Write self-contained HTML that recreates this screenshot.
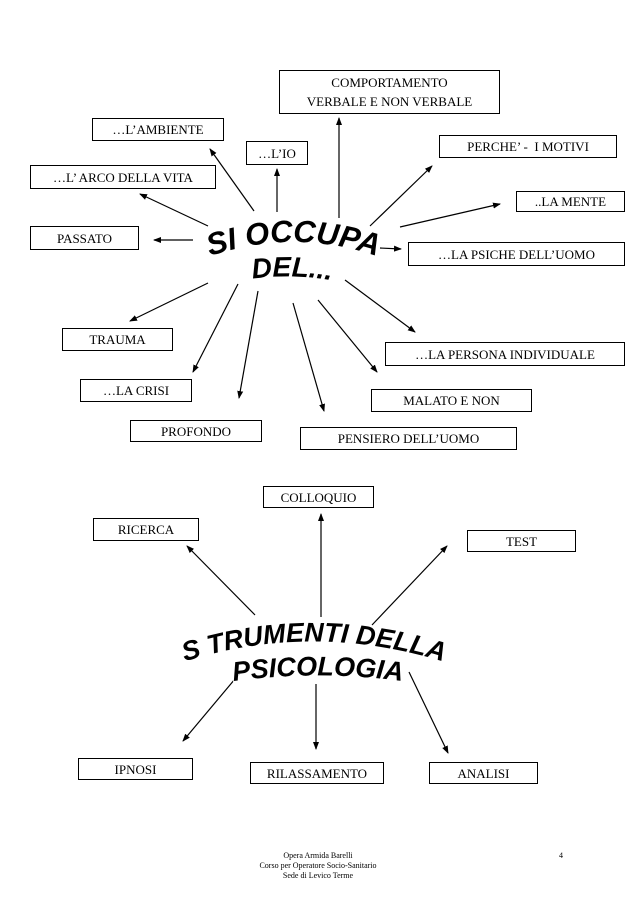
<!DOCTYPE html>
<html><head><meta charset="utf-8"><style>
html,body{margin:0;padding:0;background:#fff}
body{width:638px;height:903px;position:relative;overflow:hidden;font-family:"Liberation Serif",serif}
.b{position:absolute;border:1px solid #000;box-sizing:border-box;font-size:13px;display:flex;align-items:center;justify-content:center;text-align:center;line-height:19px;background:#fff}
.f{position:absolute;font-size:8px;text-align:center;line-height:10px}
svg{position:absolute;left:0;top:0}
</style></head><body>
<svg width="638" height="903">
<defs><marker id="a" markerWidth="8" markerHeight="8" refX="7" refY="4" orient="auto" markerUnits="userSpaceOnUse"><path d="M0,1 L8,4 L0,7 Z" fill="#000"/></marker>
<path id="p1" d="M205,258 Q293,226 382,258"/>
<path id="p2" d="M238,281 Q292,271 346,283"/>
<path id="p3" d="M180,663 Q312,620 448,663"/>
<path id="p4" d="M234,681 Q318,670 402,681"/>
</defs>
<g stroke="#000" stroke-width="1.2" fill="none" marker-end="url(#a)">
<line x1="339" y1="218" x2="339" y2="118"/>
<line x1="277" y1="212" x2="277" y2="169"/>
<line x1="254" y1="211" x2="210" y2="149"/>
<line x1="208" y1="226" x2="140" y2="194"/>
<line x1="193" y1="240" x2="154" y2="240"/>
<line x1="370" y1="226" x2="432" y2="166"/>
<line x1="400" y1="227" x2="500" y2="204"/>
<line x1="380" y1="248" x2="401" y2="249"/>
<line x1="208" y1="283" x2="130" y2="321"/>
<line x1="238" y1="284" x2="193" y2="372"/>
<line x1="258" y1="291" x2="239" y2="398"/>
<line x1="293" y1="303" x2="324" y2="411"/>
<line x1="318" y1="300" x2="377" y2="372"/>
<line x1="345" y1="280" x2="415" y2="332"/>
<line x1="255" y1="615" x2="187" y2="546"/>
<line x1="321" y1="617" x2="321" y2="514"/>
<line x1="372" y1="625" x2="447" y2="546"/>
<line x1="240" y1="673" x2="183" y2="741"/>
<line x1="316" y1="684" x2="316" y2="749"/>
<line x1="409" y1="672" x2="448" y2="753"/>
</g>
<g font-family="Liberation Sans,sans-serif" font-weight="bold" font-style="italic" fill="#000" stroke="#fff" stroke-width="1.5" paint-order="stroke">
<text font-size="31"><textPath href="#p1" startOffset="50%" text-anchor="middle">SI OCCUPA</textPath></text>
<text font-size="28"><textPath href="#p2" startOffset="50%" text-anchor="middle">DEL...</textPath></text>
<text font-size="27"><textPath href="#p3" startOffset="50%" text-anchor="middle">S TRUMENTI DELLA</textPath></text>
<text font-size="27"><textPath href="#p4" startOffset="50%" text-anchor="middle">PSICOLOGIA</textPath></text>
</g>
</svg>
<div class="b" style="left:279px;top:70px;width:221px;height:44px">COMPORTAMENTO<br>VERBALE E NON VERBALE</div>
<div class="b" style="left:92px;top:118px;width:132px;height:23px">…L’AMBIENTE</div>
<div class="b" style="left:246px;top:141px;width:62px;height:24px">…L’IO</div>
<div class="b" style="left:439px;top:135px;width:178px;height:23px">PERCHE’ - &nbsp;I MOTIVI</div>
<div class="b" style="left:30px;top:165px;width:186px;height:24px">…L’ ARCO DELLA VITA</div>
<div class="b" style="left:516px;top:191px;width:109px;height:21px">..LA MENTE</div>
<div class="b" style="left:30px;top:226px;width:109px;height:24px">PASSATO</div>
<div class="b" style="left:408px;top:242px;width:217px;height:24px">…LA PSICHE DELL’UOMO</div>
<div class="b" style="left:62px;top:328px;width:111px;height:23px">TRAUMA</div>
<div class="b" style="left:385px;top:342px;width:240px;height:24px">…LA PERSONA INDIVIDUALE</div>
<div class="b" style="left:80px;top:379px;width:112px;height:23px">…LA CRISI</div>
<div class="b" style="left:371px;top:389px;width:161px;height:23px">MALATO E NON</div>
<div class="b" style="left:130px;top:420px;width:132px;height:22px">PROFONDO</div>
<div class="b" style="left:300px;top:427px;width:217px;height:23px">PENSIERO DELL’UOMO</div>
<div class="b" style="left:263px;top:486px;width:111px;height:22px">COLLOQUIO</div>
<div class="b" style="left:93px;top:518px;width:106px;height:23px">RICERCA</div>
<div class="b" style="left:467px;top:530px;width:109px;height:22px">TEST</div>
<div class="b" style="left:78px;top:758px;width:115px;height:22px">IPNOSI</div>
<div class="b" style="left:250px;top:762px;width:134px;height:22px">RILASSAMENTO</div>
<div class="b" style="left:429px;top:762px;width:109px;height:22px">ANALISI</div>
<div class="f" style="left:218px;top:851px;width:200px">Opera Armida Barelli<br>Corso per Operatore Socio-Sanitario<br>Sede di Levico Terme</div>
<div class="f" style="left:556px;top:851px;width:10px">4</div>
</body></html>
